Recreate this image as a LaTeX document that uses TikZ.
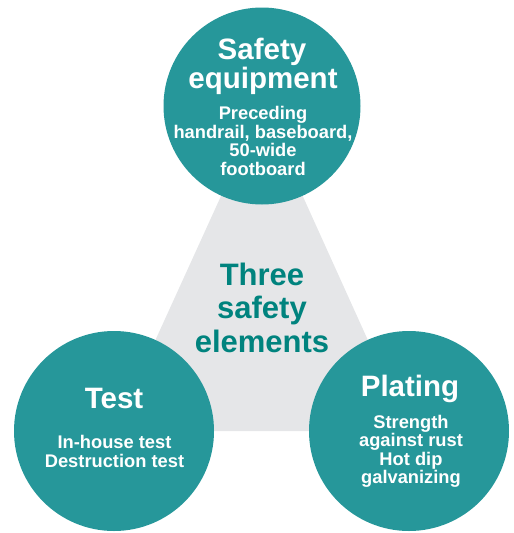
\documentclass[tikz,border=0pt]{standalone}
\usepackage{fontspec}
\setmainfont{Liberation Sans}
\definecolor{circfill}{HTML}{26979A}
\definecolor{midtext}{HTML}{00837E}
\definecolor{trifill}{HTML}{E5E6E8}
\begin{document}
\begin{tikzpicture}[x=1pt,y=-1pt,
  circ/.style={circle,fill=circfill,draw=none,minimum size=200pt,inner sep=0pt},
  bigt/.style={anchor=base,inner sep=0pt,text=white,font=\fontsize{29.5}{30}\selectfont\bfseries},
  smallt/.style={anchor=base,inner sep=0pt,text=white,font=\fontsize{18.3}{19}\selectfont\bfseries},
  midt/.style={anchor=base,inner sep=0pt,text=midtext,font=\fontsize{31}{32}\selectfont\bfseries}]
\useasboundingbox (0,0) rectangle (514,533);
\coordinate (A) at (262,106);
\coordinate (B) at (114,431);
\coordinate (C) at (409,431);
\fill[trifill] (A) -- (B) -- (C) -- cycle;
\node[circ,minimum size=197pt] (top) at (A) {};
\node[circ] (left) at (B) {};
\node[circ] (right) at (C) {};
% centre
\node[midt] (m1) at (262,285) {Three};
\node[midt] (m2) at (262,318) {safety};
\node[midt] (m3) at (262,352) {elements};
% top
\node[bigt] (t1) at (262,59) {Safety};
\node[bigt] (t2) at (263,88) {equipment};
\node[smallt] (t3) at (263,119) {Preceding};
\node[smallt] (t4) at (263,138) {handrail, baseboard,};
\node[smallt] (t5) at (263,156) {50-wide};
\node[smallt] (t6) at (263,175) {footboard};
% left
\node[bigt] (l1) at (114,408) {Test};
\node[smallt] (l2) at (114.5,448) {In-house test};
\node[smallt] (l3) at (114.5,467) {Destruction test};
% right
\node[bigt] (r1) at (410,396) {Plating};
\node[smallt] (r2) at (411,428) {Strength};
\node[smallt] (r3) at (411,446) {against rust};
\node[smallt] (r4) at (411,465) {Hot dip};
\node[smallt] (r5) at (411,483) {galvanizing};
\end{tikzpicture}
\end{document}
